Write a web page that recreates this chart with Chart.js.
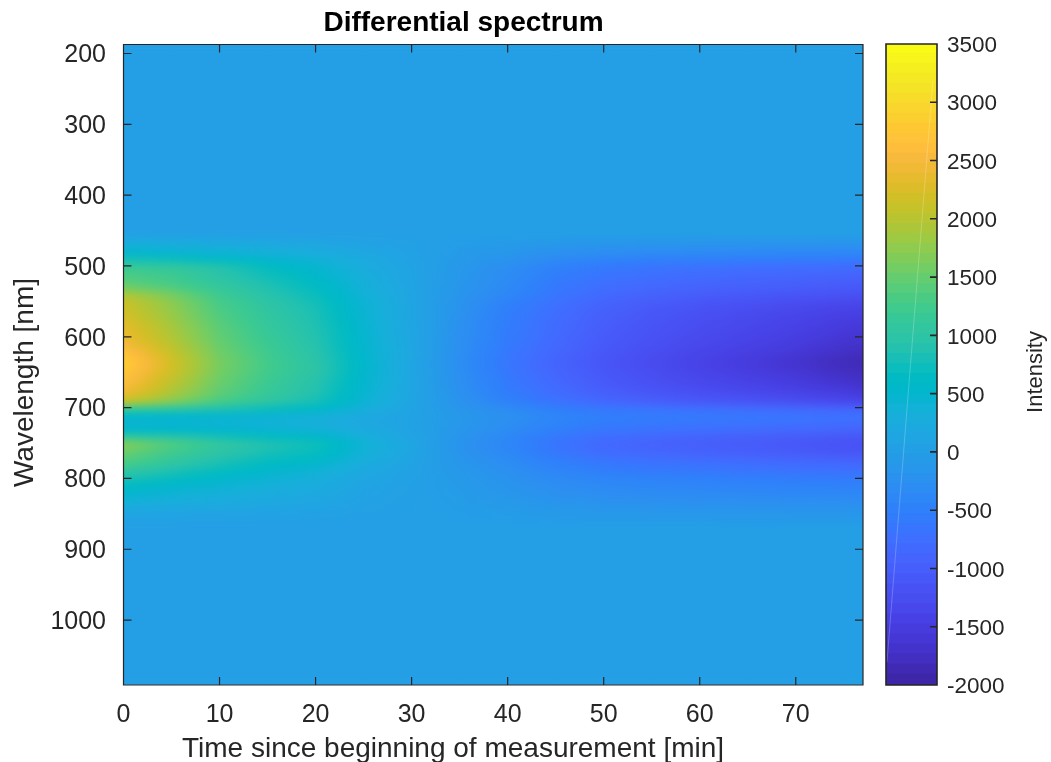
<!DOCTYPE html>
<html>
<head>
<meta charset="utf-8">
<title>Differential spectrum</title>
<script src="https://cdn.jsdelivr.net/npm/chart.js@4"></script>
<style>
  html, body { margin: 0; background: #fff; }
  canvas { position: absolute; left: 0; top: 0; }
</style>
</head>
<body>
<svg width="0" height="0" style="position:absolute"><filter id="softRows" x="0" y="-5%" width="100%" height="110%" color-interpolation-filters="sRGB"><feGaussianBlur stdDeviation="0 3"/></filter></svg>
<canvas id="heat" width="1051" height="762"></canvas>
<canvas id="bar" width="1051" height="762"></canvas>
<script>
const xTicks = [0, 10, 20, 30, 40, 50, 60, 70];
const yTicks = [200, 300, 400, 500, 600, 700, 800, 900, 1000];
const barTicks = [-2000, -1500, -1000, -500, 0, 500, 1000, 1500, 2000, 2500, 3000, 3500];

// time nodes [min], one value per node in each row of intensity
const times = [0, 5, 10, 15, 20, 25, 30, 35, 40, 45, 50, 55, 60, 65, 70, 75, 80];

// wavelength band edges [nm]
const rowEdges = [180, 455, 465, 475, 485, 495, 505, 515, 525, 535, 545, 555, 565, 575, 585, 595,
  605, 615, 625, 635, 645, 655, 665, 675, 685, 695, 705, 715, 725, 735, 745, 755, 765, 775, 785,
  795, 805, 815, 825, 835, 845, 855, 865, 1090];

const intensity = [
  [0, 0, 0, 0, 0, 0, 0, 0, 0, 0, 0, 0, 0, 0, 0, 0, 0],
  [150, 130, 110, 90, 70, 40, 10, -20, -35, -60, -75, -85, -90, -95, -97, -100, -100],
  [350, 310, 270, 220, 170, 100, 30, -45, -90, -150, -190, -210, -225, -235, -245, -250, -255],
  [500, 460, 400, 330, 250, 150, 40, -65, -150, -250, -305, -340, -360, -375, -390, -400, -410],
  [800, 730, 630, 500, 380, 220, 60, -90, -220, -370, -460, -510, -540, -565, -585, -600, -615],
  [1150, 1050, 880, 640, 460, 250, 80, -120, -300, -490, -610, -670, -710, -745, -775, -800, -820],
  [1300, 1180, 960, 720, 520, 280, 90, -130, -320, -540, -670, -740, -790, -835, -870, -900, -925],
  [1400, 1250, 1020, 800, 590, 310, 90, -145, -350, -590, -730, -810, -870, -920, -960, -1000, -1030],
  [1600, 1380, 1100, 860, 640, 340, 100, -160, -380, -630, -780, -870, -930, -985, -1030, -1080, -1120],
  [1950, 1600, 1210, 930, 700, 370, 110, -180, -410, -670, -840, -950, -1030, -1090, -1150, -1200, -1250],
  [2100, 1720, 1280, 990, 750, 400, 110, -200, -495, -720, -910, -1030, -1120, -1190, -1260, -1330, -1390],
  [2150, 1760, 1320, 1030, 790, 420, 120, -220, -530, -760, -960, -1090, -1190, -1260, -1340, -1420, -1490],
  [2200, 1800, 1360, 1060, 810, 430, 120, -235, -550, -780, -990, -1120, -1230, -1310, -1390, -1480, -1550],
  [2300, 1860, 1400, 1090, 840, 450, 120, -245, -560, -800, -1010, -1150, -1260, -1340, -1430, -1530, -1610],
  [2350, 1900, 1440, 1120, 860, 460, 130, -255, -575, -810, -1030, -1170, -1280, -1370, -1460, -1570, -1660],
  [2400, 1950, 1470, 1150, 880, 470, 130, -265, -585, -830, -1050, -1190, -1310, -1400, -1500, -1620, -1710],
  [2500, 2010, 1510, 1180, 900, 480, 130, -270, -605, -850, -1070, -1220, -1340, -1440, -1540, -1670, -1770],
  [2650, 2090, 1550, 1210, 930, 490, 140, -280, -625, -870, -1100, -1250, -1380, -1480, -1590, -1730, -1840],
  [2780, 2150, 1590, 1240, 950, 510, 130, -300, -650, -900, -1130, -1280, -1420, -1530, -1650, -1800, -1920],
  [2800, 2180, 1600, 1250, 980, 520, 120, -300, -650, -900, -1130, -1280, -1420, -1530, -1650, -1800, -1920],
  [2700, 2120, 1570, 1230, 960, 510, 130, -280, -625, -880, -1100, -1250, -1380, -1490, -1600, -1740, -1850],
  [2620, 2060, 1530, 1200, 920, 490, 130, -270, -605, -860, -1070, -1220, -1340, -1440, -1550, -1680, -1780],
  [2500, 1980, 1480, 1160, 890, 470, 130, -260, -585, -820, -1030, -1170, -1290, -1380, -1480, -1600, -1690],
  [2350, 1880, 1420, 1110, 850, 450, 120, -240, -540, -770, -960, -1090, -1200, -1280, -1370, -1480, -1560],
  [2050, 1660, 1280, 1000, 770, 410, 110, -210, -485, -690, -860, -980, -1080, -1150, -1230, -1330, -1400],
  [1200, 1050, 870, 720, 580, 320, 90, -160, -340, -540, -660, -720, -780, -830, -880, -950, -1000],
  [550, 520, 480, 420, 350, 190, 70, -120, -260, -430, -530, -570, -610, -640, -680, -720, -750],
  [430, 420, 400, 360, 310, 170, 70, -130, -280, -460, -570, -620, -660, -690, -735, -780, -810],
  [550, 530, 500, 440, 370, 200, 80, -150, -320, -520, -650, -710, -760, -800, -850, -900, -940],
  [1100, 950, 780, 640, 560, 320, 100, -185, -390, -630, -780, -860, -930, -980, -1030, -1100, -1150],
  [1650, 1330, 1060, 840, 720, 380, 130, -200, -420, -670, -840, -920, -990, -1040, -1100, -1170, -1220],
  [1550, 1250, 1000, 800, 680, 360, 120, -190, -400, -650, -810, -890, -950, -1000, -1060, -1130, -1180],
  [1400, 1120, 890, 700, 600, 310, 100, -160, -350, -560, -700, -770, -830, -870, -920, -970, -1010],
  [1230, 980, 770, 590, 470, 230, 70, -135, -300, -490, -610, -670, -710, -750, -790, -830, -860],
  [1000, 800, 630, 480, 360, 170, 50, -110, -250, -410, -510, -570, -600, -640, -670, -700, -720],
  [780, 640, 510, 390, 290, 130, 40, -90, -210, -340, -420, -470, -500, -525, -550, -570, -590],
  [600, 500, 400, 310, 230, 100, 20, -75, -180, -290, -360, -400, -430, -450, -470, -480, -495],
  [480, 400, 320, 250, 190, 80, 20, -60, -150, -240, -300, -330, -355, -375, -390, -400, -410],
  [350, 290, 240, 190, 140, 60, 10, -50, -110, -190, -240, -260, -275, -290, -300, -310, -320],
  [220, 190, 160, 120, 90, 40, 10, -35, -80, -130, -170, -185, -195, -205, -215, -220, -225],
  [100, 90, 70, 60, 40, 20, 5, -20, -50, -85, -105, -120, -125, -130, -135, -140, -145],
  [30, 30, 20, 20, 10, 5, 0, -10, -25, -45, -55, -60, -62, -65, -68, -70, -72],
  [0, 0, 0, 0, 0, 0, 0, 0, 0, 0, 0, 0, 0, 0, 0, 0, 0]
];

const parula = [
  [0.2422,0.1504,0.6603],[0.2504,0.1650,0.7076],[0.2578,0.1818,0.7511],[0.2647,0.1978,0.7952],
  [0.2706,0.2147,0.8364],[0.2751,0.2342,0.8710],[0.2783,0.2559,0.8991],[0.2803,0.2782,0.9221],
  [0.2813,0.3006,0.9414],[0.2810,0.3228,0.9579],[0.2795,0.3447,0.9717],[0.2760,0.3667,0.9829],
  [0.2699,0.3892,0.9906],[0.2602,0.4123,0.9952],[0.2440,0.4358,0.9988],[0.2206,0.4603,0.9973],
  [0.1963,0.4847,0.9892],[0.1834,0.5074,0.9798],[0.1786,0.5289,0.9682],[0.1764,0.5499,0.9520],
  [0.1687,0.5703,0.9359],[0.1540,0.5902,0.9218],[0.1460,0.6091,0.9079],[0.1380,0.6276,0.8973],
  [0.1248,0.6459,0.8883],[0.1113,0.6635,0.8763],[0.0952,0.6798,0.8598],[0.0689,0.6948,0.8394],
  [0.0297,0.7082,0.8163],[0.0036,0.7203,0.7917],[0.0067,0.7312,0.7660],[0.0433,0.7411,0.7394],
  [0.0964,0.7500,0.7120],[0.1408,0.7584,0.6842],[0.1717,0.7670,0.6554],[0.1938,0.7758,0.6251],
  [0.2161,0.7843,0.5923],[0.2470,0.7918,0.5567],[0.2906,0.7973,0.5188],[0.3406,0.8008,0.4789],
  [0.3909,0.8029,0.4354],[0.4456,0.8024,0.3909],[0.5044,0.7993,0.3480],[0.5616,0.7942,0.3045],
  [0.6174,0.7876,0.2612],[0.6720,0.7793,0.2227],[0.7242,0.7698,0.1910],[0.7738,0.7598,0.1646],
  [0.8203,0.7498,0.1535],[0.8634,0.7406,0.1596],[0.9035,0.7330,0.1774],[0.9393,0.7288,0.2100],
  [0.9728,0.7298,0.2394],[0.9956,0.7434,0.2371],[0.9970,0.7659,0.2199],[0.9952,0.7861,0.1990],
  [0.9892,0.8136,0.1877],[0.9786,0.8358,0.1758],[0.9676,0.8629,0.1642],[0.9610,0.8890,0.1537],
  [0.9597,0.9135,0.1423],[0.9628,0.9373,0.1265],[0.9691,0.9606,0.1064],[0.9769,0.9839,0.0805]
];

// faint white streak across the colorbar
const streakX = [0.02, 0.92];
const streakY = [-1800, 3180];

const cMin = -2000, cMax = 3500;
const ink = '#262626';
const fontName = '"Liberation Sans", Arial, sans-serif';

function colorOf(v) {
  const f = Math.max(0, Math.min(63, (v - cMin) / (cMax - cMin) * 64 - 0.5));
  const i = Math.min(62, Math.floor(f)), t = f - i;
  const c = parula[i].map((a, k) => Math.round(255 * (a + (parula[i + 1][k] - a) * t)));
  return 'rgb(' + c.join(',') + ')';
}

// each cell runs from one time node to the next and fades between their values
function cellColor(c) {
  if (!c.raw) return 'transparent';
  const sx = c.chart.scales.x;
  const x0 = sx.getPixelForValue(c.raw.t0), x1 = sx.getPixelForValue(c.raw.t1);
  if (!isFinite(x0) || !isFinite(x1)) return 'transparent'; // scale not laid out yet
  const g = c.chart.ctx.createLinearGradient(x0, 0, x1, 0);
  for (let s = 0; s <= 4; s++) g.addColorStop(s / 4, colorOf(c.raw.v0 + (c.raw.v1 - c.raw.v0) * s / 4));
  return g;
}

const heatSets = intensity.map((row, r) => ({
  backgroundColor: cellColor,
  barPercentage: 1.02,
  categoryPercentage: 1,
  grouped: false,
  data: times.slice(1).map((t1, i) => ({
    x: (times[i] + t1) / 2,
    y: [rowEdges[r], rowEdges[r + 1] + 1.5],
    t0: times[i], t1: t1, v0: row[i], v1: row[i + 1]
  }))
}));

// inward MATLAB-style ticks and the box round the axes
const framePlugin = {
  id: 'frame',
  afterDatasetsDraw(chart, args, opts) {
    const ctx = chart.ctx, a = chart.chartArea;
    ctx.save();
    if (opts.soften) {
      // soften the steps between wavelength rows, the original image is interpolated
      ctx.save();
      ctx.beginPath();
      ctx.rect(a.left, a.top, a.right - a.left, a.bottom - a.top);
      ctx.clip();
      ctx.filter = 'url(#softRows)';
      ctx.drawImage(chart.canvas, 0, 0);
      ctx.restore();
    }
    ctx.strokeStyle = ink;
    ctx.lineWidth = opts.width;
    ctx.beginPath();
    ctx.rect(a.left, a.top, a.right - a.left, a.bottom - a.top);
    const sx = chart.scales.x, sy = chart.scales.y;
    if (opts.xTicks) {
      sx.ticks.forEach(t => {
        const x = sx.getPixelForValue(t.value);
        ctx.moveTo(x, a.bottom); ctx.lineTo(x, a.bottom - opts.len);
        ctx.moveTo(x, a.top); ctx.lineTo(x, a.top + opts.len);
      });
    }
    sy.ticks.forEach(t => {
      const y = sy.getPixelForValue(t.value);
      ctx.moveTo(a.right, y); ctx.lineTo(a.right - opts.len, y);
      if (opts.xTicks) { ctx.moveTo(a.left, y); ctx.lineTo(a.left + opts.len, y); }
    });
    ctx.stroke();
    if (opts.sideLabel) {
      ctx.translate(1036, 372);
      ctx.rotate(-Math.PI / 2);
      ctx.fillStyle = ink;
      ctx.font = '22px ' + fontName;
      ctx.textAlign = 'center';
      ctx.textBaseline = 'middle';
      ctx.fillText(opts.sideLabel, 0, 0);
    }
    ctx.restore();
  }
};

// title and axis titles sit off the axes centre, as in the original figure
const titlePlugin = {
  id: 'titleShift',
  afterLayout(chart) {
    chart.titleBlock.left = 0;
    chart.titleBlock.right = 927;
    chart.scales.x.left = 43;
    chart.scales.x.bottom = 763;
    chart.scales.y.bottom = 720.5;
  }
};

new Chart(document.getElementById('heat'), {
  type: 'bar',
  data: { datasets: heatSets },
  plugins: [framePlugin, titlePlugin],
  options: {
    responsive: false,
    animation: false,
    events: [],
    layout: { padding: { left: 0, right: 188, top: 0, bottom: 0 } },
    plugins: {
      legend: { display: false },
      tooltip: { enabled: false },
      title: {
        display: true,
        text: 'Differential spectrum',
        color: '#000',
        font: { family: fontName, size: 28, weight: 'bold', lineHeight: 1 },
        padding: { top: 9, bottom: 7.5 }
      },
      frame: { width: 1.2, len: 8, xTicks: true, soften: true }
    },
    scales: {
      x: {
        type: 'linear',
        offset: false,
        min: 0,
        max: 77,
        afterBuildTicks: s => { s.ticks = xTicks.map(v => ({ value: v })); },
        afterFit: s => { s.height = 77; },
        grid: { display: false },
        border: { display: false },
        ticks: { color: ink, font: { family: fontName, size: 25 }, padding: 7, maxRotation: 0, callback: v => String(v) },
        title: {
          display: true,
          text: 'Time since beginning of measurement [min]',
          color: ink,
          font: { family: fontName, size: 28, lineHeight: 1 },
          padding: { top: 0, bottom: 0 }
        }
      },
      y: {
        type: 'linear',
        reverse: true,
        min: 187.3,
        max: 1091.7,
        afterBuildTicks: s => { s.ticks = yTicks.map(v => ({ value: v })); },
        afterFit: s => { s.width = 123.5; },
        grid: { display: false },
        border: { display: false },
        ticks: { color: ink, font: { family: fontName, size: 25 }, padding: 9.5, labelOffset: 2, callback: v => String(v) },
        title: {
          display: true,
          text: 'Wavelength [nm]',
          color: ink,
          font: { family: fontName, size: 28, lineHeight: 1 },
          padding: { top: 11.5, bottom: 0 }
        }
      }
    }
  }
});

const barStep = (cMax - cMin) / parula.length;
const barSets = parula.map((c, i) => ({
  type: 'bar',
  backgroundColor: colorOf(cMin + (i + 0.5) * barStep),
  barThickness: 52,
  grouped: false,
  order: i + 1,
  data: [{ x: 0.5, y: [cMin + i * barStep, cMin + (i + 1) * barStep + 9] }]
}));
barSets.unshift({
  type: 'line',
  order: 0,
  borderColor: 'rgba(255,255,255,0.22)',
  borderWidth: 1,
  pointRadius: 0,
  data: streakX.map((x, i) => ({ x: x, y: streakY[i] }))
});

new Chart(document.getElementById('bar'), {
  type: 'bar',
  data: { datasets: barSets },
  plugins: [framePlugin],
  options: {
    responsive: false,
    animation: false,
    events: [],
    layout: { padding: { left: 886, right: 0, top: 44, bottom: 77 } },
    plugins: {
      legend: { display: false },
      tooltip: { enabled: false },
      frame: { width: 1.6, len: 7, xTicks: false, sideLabel: 'Intensity' }
    },
    scales: {
      x: { type: 'linear', offset: false, min: 0, max: 1, display: false },
      y: {
        type: 'linear',
        position: 'right',
        min: cMin,
        max: cMax,
        afterBuildTicks: s => { s.ticks = barTicks.map(v => ({ value: v })); },
        afterFit: s => { s.width = 114; },
        grid: { display: false },
        border: { display: false },
        ticks: { color: ink, font: { family: fontName, size: 22.5 }, padding: 2, labelOffset: 2, callback: v => String(v) }
      }
    }
  }
});
</script>
</body>
</html>
